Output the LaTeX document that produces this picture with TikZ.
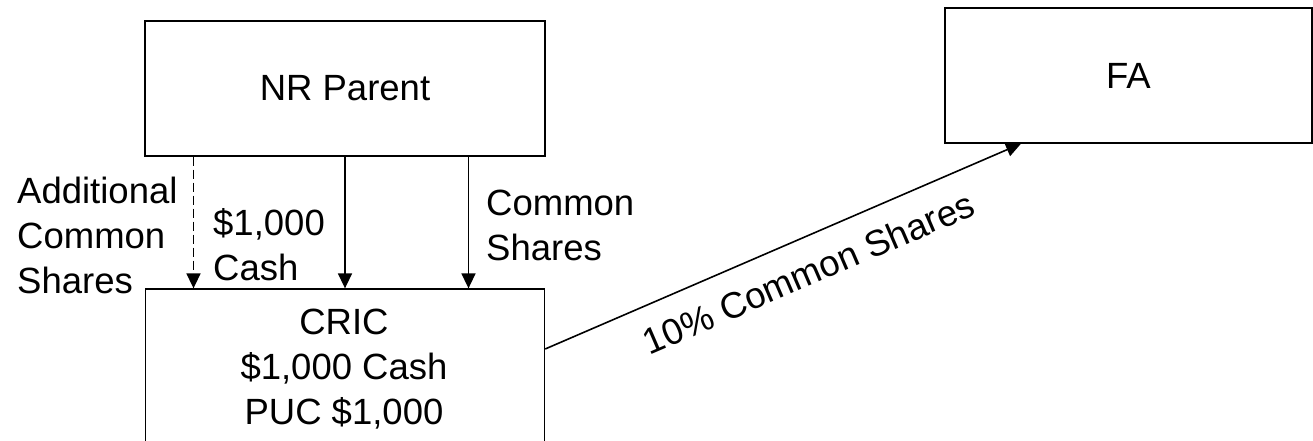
\documentclass[tikz,border=0pt]{standalone}
\usepackage{fontspec}
\setmainfont{Liberation Sans}
\usetikzlibrary{arrows.meta}
\begin{document}
\begin{tikzpicture}[x=1pt,y=-1pt,
  lbl/.style={font=\fontsize{36.5}{45}\selectfont, inner sep=0pt},
  box/.style={draw, line width=1.3pt, rectangle, inner sep=0pt, lbl},
  arr/.style={line width=1.6pt, -{Triangle[length=15pt,width=14pt]}},
  dasharr/.style={arr, dash pattern=on 9pt off 4pt},
]
\useasboundingbox (0,0) rectangle (1313,440);
% boxes
\node[box, minimum width=400pt, minimum height=135pt] (nr) at (345,88.5) {NR Parent};
\node[box, minimum width=399pt, minimum height=180pt] (cric) at (345,379) {};
\node[lbl, align=center] (crictext) at (344,369) {CRIC\\\$1,000 Cash\\PUC \$1,000};
\node[box, minimum width=367pt, minimum height=135pt] (fa) at (1128.5,75.5) {FA};
% vertical arrows
\draw[dasharr] ([xshift=-151.5pt]nr.south) -- ([xshift=-151.5pt]cric.north);
\draw[arr] (nr.south) -- (cric.north);
\draw[arr] ([xshift=123.5pt]nr.south) -- ([xshift=123.5pt]cric.north);
% labels
\node[lbl, align=left, anchor=west] (addl) at (17,235) {Additional\\Common\\Shares};
\node[lbl, align=left, anchor=west] (cash) at (213,245) {\$1,000\\Cash};
\node[lbl, align=left, anchor=west] (cs) at (486,225) {Common\\Shares};
% diagonal arrow
\draw[arr] ([yshift=30pt]cric.east) -- ([xshift=-107.5pt]fa.south)
  node[lbl, sloped, pos=0.525, below=20pt] (pct) {10\% Common Shares};
\end{tikzpicture}
\end{document}
